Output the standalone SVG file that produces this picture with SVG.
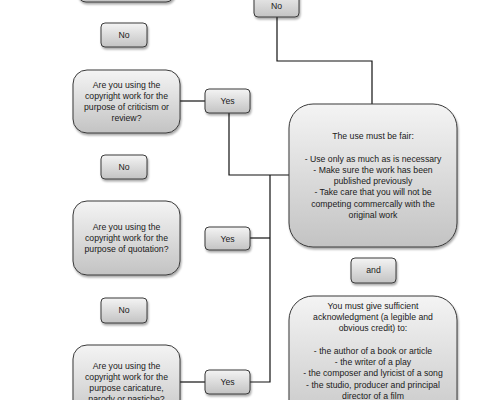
<svg xmlns="http://www.w3.org/2000/svg" width="490" height="400" viewBox="0 0 490 400">
<defs>
<linearGradient id="g" x1="0" y1="0" x2="0" y2="1">
<stop offset="0" stop-color="#f4f4f4"/>
<stop offset="1" stop-color="#c3c3c3"/>
</linearGradient>
<filter id="sh" x="-10%" y="-10%" width="130%" height="130%">
<feGaussianBlur in="SourceAlpha" stdDeviation="1"/>
<feOffset dx="1" dy="1.5" result="o"/>
<feComponentTransfer><feFuncA type="linear" slope="0.35"/></feComponentTransfer>
<feMerge><feMergeNode/><feMergeNode in="SourceGraphic"/></feMerge>
</filter>
</defs>
<style>
.b{fill:url(#g);stroke:#3a3a3a;stroke-width:1;filter:url(#sh)}
.t{font-family:"Liberation Sans",Arial,sans-serif;font-size:8.7px;fill:#1a1a1a;text-anchor:middle}
.c{fill:none;stroke:#111;stroke-width:1.2}
</style>
<rect width="490" height="400" fill="#fff"/>
<g id="connectors">
<path class="c" d="M277 17 V61 H372 V104"/>
<path class="c" d="M180 101 H205"/>
<path class="c" d="M229 113 V175 H289"/>
<path class="c" d="M250 238 H270"/>
<path class="c" d="M270 175 V382 H250"/>
<path class="c" d="M180 382 H205"/>
</g>
<g id="top-box"><rect class="b" x="78" y="-40" width="96" height="42" rx="8"/></g>
<g id="no-top"><rect class="b" x="254" y="-10" width="45" height="27" rx="4"/><text class="t" x="276.5" y="9">No</text></g>
<g id="no1"><rect class="b" x="101" y="23" width="46" height="24" rx="4"/><text class="t" x="124" y="38">No</text></g>
<g id="q1"><rect class="b" x="73" y="70" width="107" height="63" rx="14"/>
<text class="t" x="126.5" y="88">Are you using the</text>
<text class="t" x="126.5" y="99">copyright work for the</text>
<text class="t" x="126.5" y="110">purpose of criticism or</text>
<text class="t" x="126.5" y="121">review?</text></g>
<g id="yes1"><rect class="b" x="205" y="89" width="45" height="24" rx="4"/><text class="t" x="227.5" y="104">Yes</text></g>
<g id="no2"><rect class="b" x="101" y="155" width="46" height="24" rx="4"/><text class="t" x="124" y="170">No</text></g>
<g id="q2"><rect class="b" x="73" y="201" width="107" height="74" rx="14"/>
<text class="t" x="126.5" y="230">Are you using the</text>
<text class="t" x="126.5" y="241">copyright work for the</text>
<text class="t" x="126.5" y="252">purpose of quotation?</text></g>
<g id="yes2"><rect class="b" x="205" y="227" width="45" height="23" rx="4"/><text class="t" x="227.5" y="242">Yes</text></g>
<g id="no3"><rect class="b" x="101" y="298" width="46" height="25" rx="4"/><text class="t" x="124" y="313">No</text></g>
<g id="q3"><rect class="b" x="73" y="345" width="107" height="80" rx="14"/>
<text class="t" x="126.5" y="369">Are you using the</text>
<text class="t" x="126.5" y="380">copyright work for the</text>
<text class="t" x="126.5" y="391">purpose caricature,</text>
<text class="t" x="126.5" y="402">parody or pastiche?</text></g>
<g id="yes3"><rect class="b" x="205" y="370" width="45" height="24" rx="4"/><text class="t" x="227.5" y="385">Yes</text></g>
<g id="fair"><rect class="b" x="289" y="104" width="168" height="143" rx="24"/>
<text class="t" x="373" y="139">The use must be fair:</text>
<text class="t" x="373" y="162">- Use only as much as is necessary</text>
<text class="t" x="373" y="173">- Make sure the work has been</text>
<text class="t" x="373" y="184">published previously</text>
<text class="t" x="373" y="195">- Take care that you will not be</text>
<text class="t" x="373" y="207">competing commercally with the</text>
<text class="t" x="373" y="218">original work</text></g>
<g id="and"><rect class="b" x="351" y="258" width="45" height="25" rx="4"/><text class="t" x="373.5" y="273">and</text></g>
<g id="ack"><rect class="b" x="289" y="296" width="168" height="140" rx="24"/>
<text class="t" x="373" y="309">You must give sufficient</text>
<text class="t" x="373" y="320">acknowledgment (a legible and</text>
<text class="t" x="373" y="331">obvious credit) to:</text>
<text class="t" x="373" y="354">- the author of a book or article</text>
<text class="t" x="373" y="365">- the writer of a play</text>
<text class="t" x="373" y="376">- the composer and lyricist of a song</text>
<text class="t" x="373" y="388">- the studio, producer and principal</text>
<text class="t" x="373" y="399">director of a film</text></g>
</svg>
